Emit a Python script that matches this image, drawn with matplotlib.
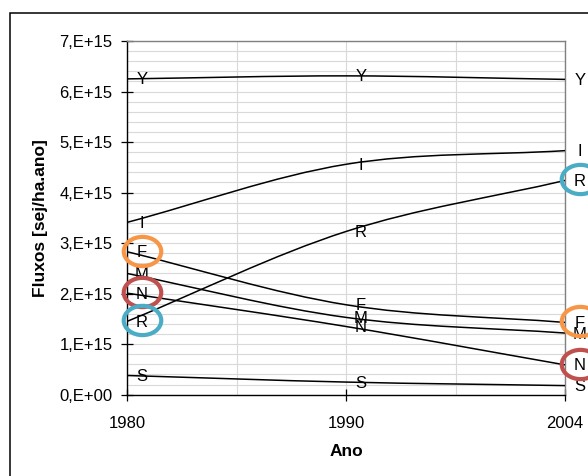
import matplotlib
matplotlib.use("Agg")
import matplotlib.pyplot as plt
import numpy as np
from matplotlib.path import Path
from matplotlib.patches import PathPatch, Rectangle
from matplotlib.transforms import offset_copy, Affine2D

plt.rcParams['font.family'] = ['Liberation Sans', 'DejaVu Sans']

# ---- data ----
years = ['1980', '1990', '2004']
series_names = ['Y', 'I', 'R', 'F', 'M', 'N', 'S']
Y = [6.25e15, 6.31e15, 6.24e15]
I = [3.41e15, 4.56e15, 4.83e15]
R = [1.45e15, 3.23e15, 4.24e15]
F = [2.83e15, 1.78e15, 1.43e15]
M = [2.40e15, 1.53e15, 1.22e15]
N = [2.01e15, 1.35e15, 0.59e15]
S = [0.38e15, 0.25e15, 0.18e15]
values = {'Y': Y, 'I': I, 'R': R, 'F': F, 'M': M, 'N': N, 'S': S}
ytick_vals = [0, 1e15, 2e15, 3e15, 4e15, 5e15, 6e15, 7e15]
ytick_labels = ['0,E+00', '1,E+15', '2,E+15', '3,E+15', '4,E+15', '5,E+15', '6,E+15', '7,E+15']
circled = {'F': '#F79646', 'N': '#C0504D', 'R': '#4BACC6'}
circled_points = [0, 2]  # 1980 and 2004

W, H, DPI = 588, 476, 100
fig = plt.figure(figsize=(W / DPI, H / DPI), dpi=DPI)
ax = fig.add_axes([127 / W, 1 - 394.7 / H, (565 - 127) / W, (394.7 - 41) / H])

xpos = np.arange(len(years)) * 2.0  # category positions (gridlines between)


def smooth_path(xs, ys):
    xs = np.asarray(xs, float)
    ys = np.asarray(ys, float)
    n = len(xs)
    mx = np.zeros(n)
    my = np.zeros(n)
    for i in range(n):
        if i == 0:
            mx[i], my[i] = xs[1] - xs[0], ys[1] - ys[0]
        elif i == n - 1:
            mx[i], my[i] = xs[-1] - xs[-2], ys[-1] - ys[-2]
        else:
            mx[i], my[i] = (xs[i + 1] - xs[i - 1]) / 2, (ys[i + 1] - ys[i - 1]) / 2
    verts = [(xs[0], ys[0])]
    codes = [Path.MOVETO]
    for i in range(n - 1):
        verts += [(xs[i] + mx[i] / 3, ys[i] + my[i] / 3),
                  (xs[i + 1] - mx[i + 1] / 3, ys[i + 1] - my[i + 1] / 3),
                  (xs[i + 1], ys[i + 1])]
        codes += [Path.CURVE4] * 3
    return Path(verts, codes)


for name in series_names:
    ax.add_patch(PathPatch(smooth_path(xpos, values[name]), fill=False,
                           edgecolor='black', lw=1.1, zorder=3))

# labels next to points
lab_tr = offset_copy(ax.transData, fig=fig, x=15, y=-1, units='dots')
for name in series_names:
    for xi, v in zip(xpos, values[name]):
        ax.text(xi, v, name, transform=lab_tr, ha='center', va='center',
                fontsize=12, color='black', clip_on=False, zorder=5)

# highlight ellipses
ell = Path.unit_circle()
ell = Path(Affine2D().scale(1.0, 0.78).transform(ell.vertices), ell.codes)
circ_tr = offset_copy(ax.transData, fig=fig, x=15, y=1, units='dots')
for name, col in circled.items():
    for idx in circled_points:
        ax.plot([xpos[idx]], [values[name][idx]], marker=ell, markersize=27,
                markerfacecolor='none', markeredgecolor=col, markeredgewidth=3.0,
                linestyle='none', transform=circ_tr, clip_on=False, zorder=6)

# axes setup
ax.set_xlim(0, 4)
ax.set_ylim(0, 7e15)
ax.set_xticks(xpos)
ax.set_xticklabels(years)
ax.set_xticks([1, 3], minor=True)
ax.set_yticks(ytick_vals)
ax.set_yticklabels(ytick_labels)
ax.set_yticks(np.arange(0, 7.01e15, 0.2e15), minor=True)
ax.grid(True, which='both', color='#D9D9D9', lw=0.8, zorder=0)
ax.set_axisbelow(True)
ax.tick_params(axis='both', which='major', direction='inout', length=8, width=0.9,
               labelsize=12, colors='black')
ax.tick_params(axis='x', which='major', pad=11)
ax.tick_params(axis='y', which='major', pad=6.5)
ax.tick_params(axis='both', which='minor', length=0)
for s in ['left', 'bottom']:
    ax.spines[s].set_color('black')
    ax.spines[s].set_linewidth(1.0)
for s in ['top', 'right']:
    ax.spines[s].set_color('#808080')
    ax.spines[s].set_linewidth(1.0)

ax.set_xlabel('Ano', fontsize=12.5, fontweight='bold')
ax.xaxis.set_label_coords(0.5, -0.14)
ax.set_ylabel('Fluxos [sej/ha.ano]', fontsize=12.5, fontweight='bold')
ax.yaxis.set_label_coords(-0.18, 0.5)

# outer chart border
fig.patches.append(Rectangle((9.5 / W, -0.1), 1.2, (H - 12.5) / H + 0.1,
                             transform=fig.transFigure, fill=False,
                             edgecolor='black', lw=1.1))

fig.savefig('out.png', dpi=DPI)
